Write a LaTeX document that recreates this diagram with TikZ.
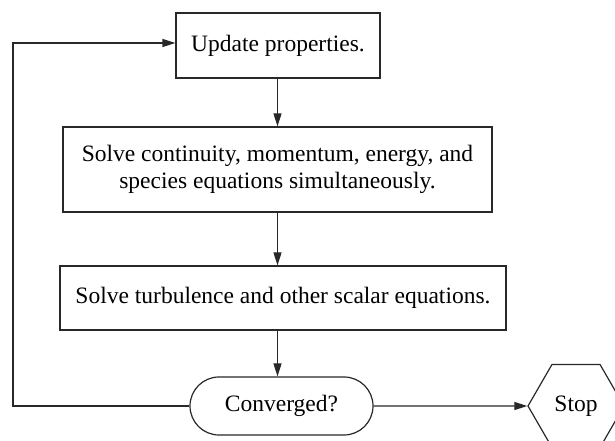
\documentclass[tikz,border=0pt]{standalone}
\usepackage{fontspec}
\setmainfont{Liberation Serif}
\usetikzlibrary{arrows.meta,positioning,shapes.geometric,shapes.misc}
\definecolor{colline}{RGB}{40,40,40}
\tikzset{
  % PROCESS BOXES
  frameStep/.style={
    rectangle,
    draw=colline,
    align=center,
    inner sep=0pt,
    text=black
  },
  % DECISION
  frameCheck/.style={
    rounded rectangle,
    draw=colline,
    inner sep=0pt,
    minimum width=183,
    minimum height=58
  },
  % END
  frameEnd/.style={
    regular polygon,
    regular polygon sides=6,
    draw=colline,
    inner sep=0pt,
    minimum size=96
  },
  % MAIN FLOW
  lineFlow/.style={
    draw=colline,-{Triangle[length=13pt,width=8pt]}
  }
}
\begin{document}
\begin{tikzpicture}[x=1pt,y=1pt,line width=1.2pt,font=\fontsize{23.5}{27.5}\selectfont]

\useasboundingbox (0,0) rectangle (615,441);
\clip (0,0) rectangle (615,441);

% Steps
\node [frameStep,minimum width=204,minimum height=65] (update) at (278,395.5) {Update properties.} ;
\node [frameStep,minimum width=429,minimum height=85] (solve_main) at (277.5,271.5) {Solve continuity, momentum, energy, and \\ species equations simultaneously.} ;
\node [frameStep,minimum width=446,minimum height=64] (solve_turb) at (283,143) {Solve turbulence and other scalar equations.} ;

% Check and end
\node [frameCheck] (converged) at (281.5,35) {Converged?} ;
\node [frameEnd] (stop) at (576,35) {Stop} ;

\coordinate (loop_top) at (13,398) ;

% Lines
\path [lineFlow] (update.south -| solve_main.north) -- (solve_main.north) ;
\path [lineFlow] (solve_main.south) -- (solve_main.south |- solve_turb.north) ;
\path [lineFlow] (solve_turb.south -| solve_main.south) -- (converged.north -| solve_main.south) ;
\path [lineFlow] (converged.east) -- (stop.west) ;
\path [lineFlow] (converged.west) -| (loop_top) -- (update.west |- loop_top) ;

\end{tikzpicture}
\end{document}
